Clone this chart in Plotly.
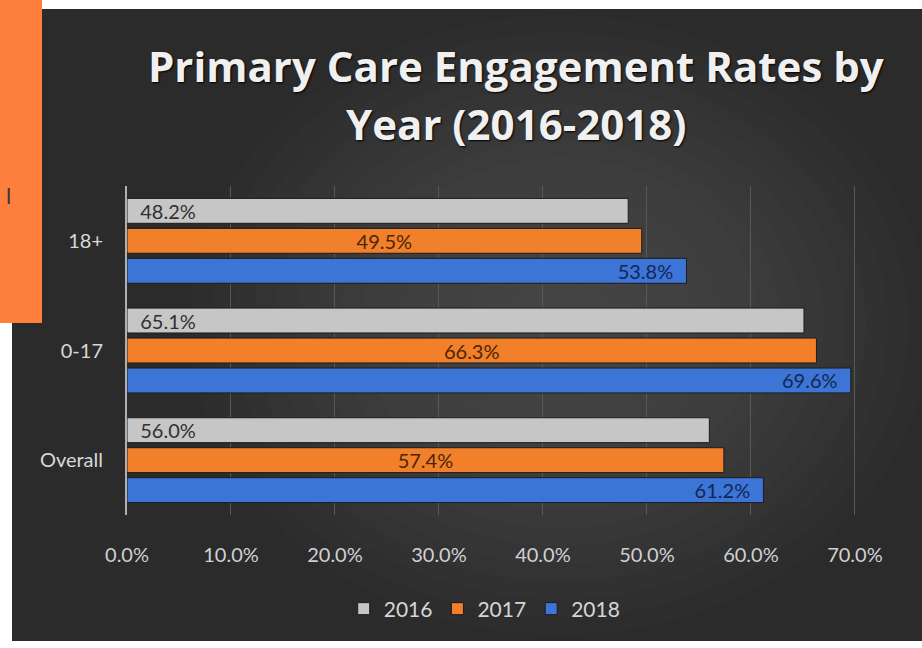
import plotly.graph_objects as go

categories = ["18+", "0-17", "Overall"]
years = ["2016", "2017", "2018"]
values_2016 = [48.2, 65.1, 56.0]
values_2017 = [49.5, 66.3, 57.4]
values_2018 = [53.8, 69.6, 61.2]
x_ticks = [0, 10, 20, 30, 40, 50, 60, 70]

W, H = 922, 648
L, R, T, B = 127, 65, 186, 133
PW, PH = W - L - R, H - T - B

def px(x):
    return (x - L) / PW

def py(y):
    return (H - B - y) / PH

colors = ["#c6c6c6", "#f27f2a", "#3c75d6"]
text_colors = ["#303030", "#4a2608", "#142656"]
anchors = ["start", "middle", "end"]
pads = [("\u00a0\u00a0", ""), ("", ""), ("", "\u00a0\u00a0")]
series = [values_2016, values_2017, values_2018]

FONT = "Lato, Open Sans, sans-serif"

fig = go.Figure()
for name, vals, c, tc, anc, (pre, post) in zip(years, series, colors, text_colors, anchors, pads):
    fig.add_trace(go.Bar(
        y=categories, x=vals, name=name, orientation="h",
        marker=dict(color=c, line=dict(color="#1c1c1c", width=1)),
        text=[f"{pre}{v:.1f}%{post}" for v in vals],
        textposition="inside", insidetextanchor=anc, constraintext="none",
        textfont=dict(color=tc, size=20, family=FONT),
        hoverinfo="skip",
    ))

shapes = []
# white page, dark chart panel
shapes.append(dict(type="rect", xref="paper", yref="paper", layer="below",
                   x0=px(12), x1=px(922), y0=py(641), y1=py(9),
                   fillcolor="#2b2b2b", line=dict(width=0)))
# soft radial glow approximation (kept inside the panel)
cx, cy = 560, 325
n = 16
for i in range(n):
    f = 1 - i / n
    rx, ry = 340 * f + 30, 285 * f + 25
    shapes.append(dict(type="circle", xref="paper", yref="paper", layer="below",
                       x0=px(cx - rx), x1=px(cx + rx), y0=py(cy + ry), y1=py(cy - ry),
                       fillcolor="#626262", opacity=0.05, line=dict(width=0)))
# orange overlay at top left
shapes.append(dict(type="rect", xref="paper", yref="paper", layer="above",
                   x0=px(0), x1=px(42), y0=py(323), y1=py(0),
                   fillcolor="#ff7f3c", line=dict(width=0)))

title_font = dict(family="Open Sans, sans-serif", size=42, color="#f0f0f0", weight=700,
                  shadow="1px 1px 2px #000000")
annotations = [
    dict(text="Primary Care Engagement Rates by", xref="paper", yref="paper",
         x=px(516), y=py(66), showarrow=False, xanchor="center", yanchor="middle",
         font=title_font),
    dict(text="Year (2016-2018)", xref="paper", yref="paper",
         x=px(516), y=py(124), showarrow=False, xanchor="center", yanchor="middle",
         font=title_font),
    dict(text="l", xref="paper", yref="paper", x=px(8), y=py(196), showarrow=False,
         xanchor="center", yanchor="middle",
         font=dict(family="Lato, sans-serif", size=22, color="#3a3a3a")),
]

fig.update_layout(
    width=W, height=H,
    margin=dict(l=L, r=R, t=T, b=B, pad=0),
    paper_bgcolor="white", plot_bgcolor="rgba(0,0,0,0)",
    barmode="group", bargap=0.18, bargroupgap=0.17,
    showlegend=True,
    legend=dict(orientation="h", x=0.49, xanchor="center", y=py(609), yanchor="middle",
                font=dict(family=FONT, size=21, color="#d6d6d6"),
                bgcolor="rgba(0,0,0,0)", itemwidth=30, traceorder="normal"),
    shapes=shapes, annotations=annotations,
    xaxis=dict(range=[0, 70.2], tickvals=x_ticks,
               ticktext=[f"{t:.1f}%" for t in x_ticks],
               showgrid=True, gridcolor="#585858", gridwidth=1,
               zeroline=False, showline=False,
               tickfont=dict(family=FONT, size=20, color="#d0d0d0"),
               ticks="outside", ticklen=22, tickcolor="rgba(0,0,0,0)"),
    yaxis=dict(autorange="reversed", showgrid=False, zeroline=False,
               showline=True, linecolor="#b0b0b0", linewidth=2,
               tickfont=dict(family=FONT, size=20, color="#d8d8d8"),
               ticks="outside", ticklen=18, tickcolor="rgba(0,0,0,0)"),
    font=dict(family=FONT),
)

fig.write_html("out.html")
